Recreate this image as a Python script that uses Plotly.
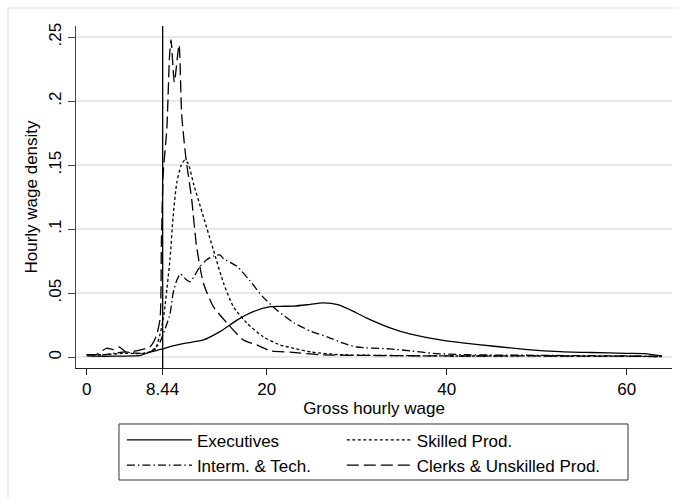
import plotly.graph_objects as go

# ---- data ----
exec_x = [0, 1, 3, 5, 6, 7, 8.44, 9.26, 11, 12.96, 14.8, 16.7, 18.5, 20.4, 21.5, 23, 24.5, 26.3,
          28, 29.3, 31, 33.7, 36, 39.3, 42, 45, 49, 52.6, 56, 60, 62, 63.9]
exec_y = [0.001, 0.0008, 0.0008, 0.001, 0.0015, 0.004, 0.0065, 0.0083, 0.011, 0.0135, 0.020, 0.029,
          0.0356, 0.0395, 0.0398, 0.040, 0.041, 0.0425, 0.041, 0.037, 0.031, 0.023, 0.018, 0.0135,
          0.011, 0.0088, 0.006, 0.0044, 0.0037, 0.003, 0.0028, 0.001]

skilled_x = [0, 2, 4, 6, 7, 7.7, 8.15, 8.5, 8.7, 9.26, 9.6, 10, 10.5, 10.9, 11.3, 11.85, 12.96,
             14.07, 15.2, 16.3, 17.8, 19.6, 21.5, 23, 25, 28, 32, 40, 50, 60, 63.9]
skilled_y = [0.002, 0.002, 0.003, 0.003, 0.004, 0.008, 0.018, 0.03, 0.04, 0.077, 0.11, 0.136, 0.15,
             0.154, 0.151, 0.136, 0.11, 0.084, 0.058, 0.0395, 0.0266, 0.016, 0.0096, 0.007, 0.004,
             0.002, 0.0015, 0.001, 0.001, 0.0008, 0.0005]

interm_x = [0, 2, 4, 6, 7, 7.7, 8.15, 8.5, 8.9, 9.26, 9.6, 10.0, 10.4, 11.0, 11.5, 12.0, 12.6,
            13.3, 14.07, 14.8, 15.2, 16.7, 18.1, 19.6, 21.1, 23, 25, 26.7, 28.5, 30, 33.7, 36,
            38.5, 42, 50, 60, 63.9]
interm_y = [0.002, 0.002, 0.004, 0.003, 0.004, 0.007, 0.012, 0.018, 0.026, 0.034, 0.05, 0.06,
            0.065, 0.061, 0.059, 0.064, 0.071, 0.076, 0.079, 0.080, 0.077, 0.071, 0.060, 0.047,
            0.037, 0.027, 0.020, 0.016, 0.011, 0.008, 0.0065, 0.005, 0.003, 0.002, 0.0015,
            0.001, 0.0008]

clerks_x = [0, 1, 2.2, 3, 3.6, 4.4, 5.5, 7.0, 7.7, 8.15, 8.3, 8.5, 8.9, 9.2, 9.37, 9.74, 10.26,
            10.55, 11.0, 11.67, 12.2, 12.96, 14.07, 15.6, 17.4, 18.9, 20.4, 22.6, 26, 30, 40,
            50, 60, 63.9]
clerks_y = [0.002, 0.002, 0.007, 0.006, 0.008, 0.004, 0.005, 0.008, 0.016, 0.03, 0.09, 0.144,
            0.178, 0.235, 0.248, 0.215, 0.244, 0.19, 0.157, 0.123, 0.087, 0.058, 0.0395, 0.0266,
            0.0135, 0.0096, 0.005, 0.004, 0.002, 0.0015, 0.001, 0.001, 0.0008, 0.0005]

series_names = ["Executives", "Skilled Prod.", "Interm. & Tech.", "Clerks & Unskilled Prod."]

MIN_WAGE = 8.44
x_ticks = [0, 8.44, 20, 40, 60]
x_tick_labels = ["0", "8.44", "20", "40", "60"]
y_ticks = [0, 0.05, 0.1, 0.15, 0.2, 0.25]
y_tick_labels = ["0", ".05", ".1", ".15", ".2", ".25"]

# ---- figure ----
FONT = "Liberation Sans, Arial, sans-serif"
dashes = ["solid", "3px,2.5px", "8px,3px,1.5px,3px", "12px,5px"]
legend_ids = ["legend", "legend2", "legend", "legend2"]
data = [(exec_x, exec_y), (skilled_x, skilled_y), (interm_x, interm_y), (clerks_x, clerks_y)]

fig = go.Figure()
for (xs, ys), name, dash, lg in zip(data, series_names, dashes, legend_ids):
    fig.add_trace(go.Scatter(
        x=xs, y=ys, mode="lines", name=name, legend=lg,
        line=dict(color="black", width=1.3, dash=dash, shape="spline", smoothing=0.6),
    ))

fig.add_shape(type="line", xref="x", yref="paper", x0=MIN_WAGE, x1=MIN_WAGE, y0=0, y1=1,
              line=dict(color="black", width=1.3))

# outer graph-region frame and legend box
fig.add_shape(type="rect", xref="paper", yref="paper", x0=-0.1141, x1=1.047, y0=-0.444, y1=1.0526,
              line=dict(color="#e4e4e4", width=1.2), layer="below")
fig.add_shape(type="rect", xref="paper", yref="paper", x0=0.0721, x1=0.9262, y0=-0.3275, y1=-0.1637,
              line=dict(color="#333333", width=1))

legend_common = dict(
    orientation="v", yanchor="top", xanchor="left", itemwidth=65,
    bgcolor="rgba(0,0,0,0)", borderwidth=0, tracegroupgap=0,
    font=dict(family=FONT, size=17, color="black"),
)

fig.update_layout(
    width=679, height=498,
    margin=dict(l=76, r=7, t=26, b=130),
    paper_bgcolor="white", plot_bgcolor="white",
    font=dict(family=FONT, size=17, color="black"),
    showlegend=True,
    legend=dict(x=0.077, y=-0.159, **legend_common),
    legend2=dict(x=0.446, y=-0.159, **legend_common),
    xaxis=dict(
        range=[-1.19, 65.03], tickmode="array", tickvals=x_ticks, ticktext=x_tick_labels,
        showgrid=False, zeroline=False, showline=True, linecolor="#222", linewidth=1,
        ticks="outside", ticklen=6, tickcolor="#222",
        title=dict(text="Gross hourly wage", standoff=0, font=dict(size=17)),
    ),
    yaxis=dict(
        range=[-0.0084, 0.2588], tickmode="array", tickvals=y_ticks, ticktext=y_tick_labels,
        tickangle=-90, showgrid=True, gridcolor="#e8e8e8", gridwidth=1.5, zeroline=False,
        showline=True, linecolor="#444", linewidth=1, ticks="outside", ticklen=7, tickcolor="#444",
        title=dict(text="Hourly wage density", standoff=4, font=dict(size=17)),
    ),
)

fig.write_html("out.html")
